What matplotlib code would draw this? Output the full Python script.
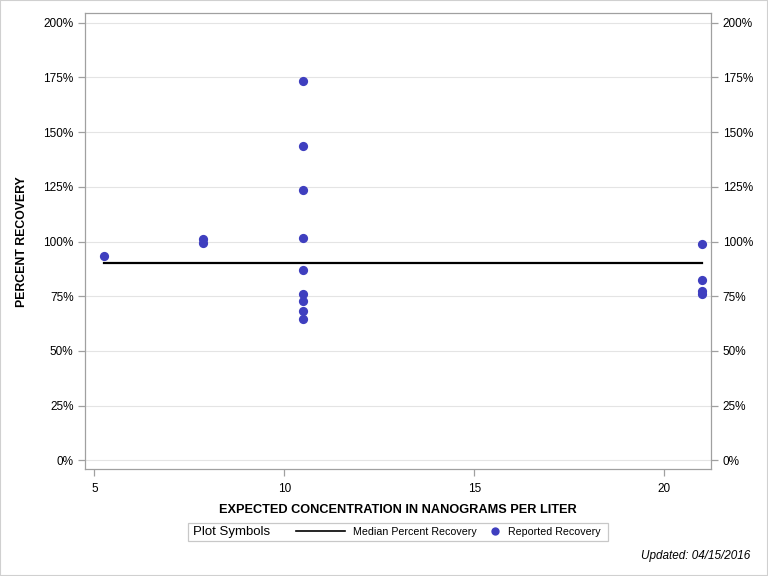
import matplotlib
matplotlib.use("Agg")
import matplotlib.pyplot as plt
from matplotlib.lines import Line2D
from matplotlib.patches import Rectangle
from matplotlib.ticker import FuncFormatter

plt.rcParams['font.family'] = ['Liberation Sans', 'DejaVu Sans']

# Data
expected_conc = [5.25, 7.87, 7.87, 10.5, 10.5, 10.5, 10.5, 10.5, 10.5, 10.5, 10.5, 10.5,
                 21.0, 21.0, 21.0, 21.0]
percent_recovery = [93.4, 101.0, 99.5, 173.2, 143.6, 123.6, 101.6, 87.0, 76.2, 72.9, 68.3, 64.4,
                    98.9, 82.5, 77.6, 75.8]
median_x = [5.25, 21.0]
median_y = [90.4, 90.4]
x_ticks = [5, 10, 15, 20]
y_ticks = [0, 25, 50, 75, 100, 125, 150, 175, 200]

dot_color = "#3f3fbf"
spine_color = "#a0a0a0"
grid_color = "#e4e4e4"

fig = plt.figure(figsize=(7.68, 5.76), dpi=100)
ax = fig.add_axes([85.3/768, 1-469.3/576, (711-85.3)/768, (469.3-13.3)/576])

line, = ax.plot(median_x, median_y, color="black", lw=1.6, zorder=3)
ax.scatter(expected_conc, percent_recovery, s=44, color=dot_color, zorder=4, linewidths=0)

ax.set_xlim(4.76, 21.23)
ax.set_ylim(-4.1, 204.3)
ax.set_xticks(x_ticks)
ax.set_yticks(y_ticks)
pct = FuncFormatter(lambda v, p: f"{int(v)}%")
ax.yaxis.set_major_formatter(pct)
ax.grid(axis="y", color=grid_color, lw=0.8)
ax.set_axisbelow(True)
for s in ax.spines.values():
    s.set_color(spine_color)
    s.set_linewidth(0.9)
ax.tick_params(colors=spine_color, labelcolor="black", labelsize=8.5, length=5, width=0.9)
ax.tick_params(axis="x", pad=5)

ax2 = ax.twinx()
ax2.set_ylim(ax.get_ylim())
ax2.set_yticks(y_ticks)
ax2.yaxis.set_major_formatter(pct)
ax2.tick_params(colors=spine_color, labelcolor="black", labelsize=8.5, length=5, width=0.9)
for s in ax2.spines.values():
    s.set_visible(False)

ax.set_xlabel("EXPECTED CONCENTRATION IN NANOGRAMS PER LITER", fontsize=9.2,
              fontweight="bold", labelpad=6)
ax.set_ylabel("PERCENT RECOVERY", fontsize=8.8, fontweight="bold", labelpad=11)

# Legend box
fig.patches.append(Rectangle((188/768, 1-541/576), (608-188)/768, 18/576,
                             transform=fig.transFigure, fill=False,
                             edgecolor="#c8c8c8", lw=0.9))
fig.text(193/768, 1-532/576, "Plot Symbols", fontsize=9.5, va="center", ha="left")
h_line = Line2D([], [], color="black", lw=1.2)
h_dot = Line2D([], [], color=dot_color, marker="o", markersize=6, linestyle="none",
               markeredgewidth=0)
leg1 = fig.legend([h_line], ["Median Percent Recovery"], frameon=False, fontsize=7.7,
                  loc="center left", bbox_to_anchor=(296/768, 1-532/576),
                  handlelength=4.6, handletextpad=0.7, borderaxespad=0, borderpad=0)
leg2 = fig.legend([h_dot], ["Reported Recovery"], frameon=False, fontsize=7.7,
                  loc="center left", bbox_to_anchor=(489.5/768, 1-532/576),
                  handlelength=1.0, handletextpad=0.7, borderaxespad=0, borderpad=0)

fig.text(750/768, 1-556/576, "Updated: 04/15/2016", fontsize=8.5, style="italic",
         ha="right", va="center")

fig.patches.append(Rectangle((0, 0), 1, 1, transform=fig.transFigure, fill=False,
                             edgecolor="#d0d0d0", lw=1.5))

fig.savefig("out.png", dpi=100)
